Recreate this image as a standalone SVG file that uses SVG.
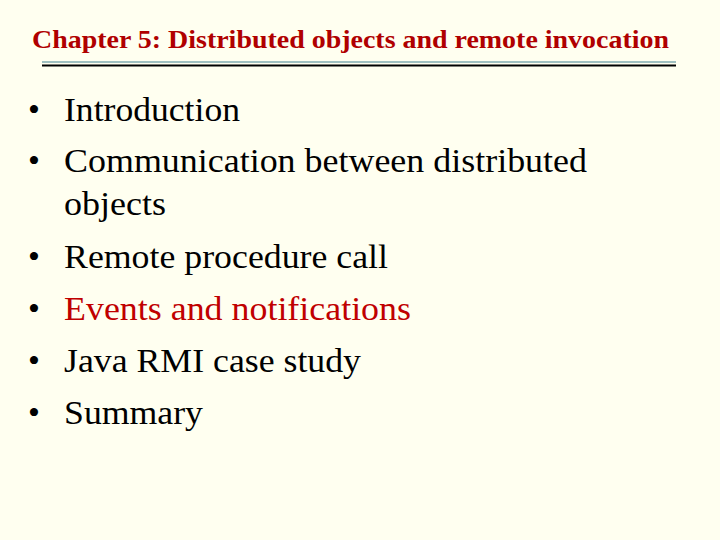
<svg xmlns="http://www.w3.org/2000/svg" width="720" height="540" viewBox="0 0 720 540">
<style>
.t{font-family:"Liberation Serif",serif;font-size:34px;fill:#000}
.r{fill:#c00000}
</style>
<rect width="720" height="540" fill="#fffff0"/>
<text x="32" y="48" textLength="637" lengthAdjust="spacingAndGlyphs" font-family="Liberation Serif,serif" font-size="25" font-weight="bold" fill="#b00000">Chapter 5: Distributed objects and remote invocation</text>
<line x1="42" y1="62" x2="676" y2="62" stroke="#a0c0c0" stroke-width="2"/>
<line x1="42" y1="65.5" x2="676" y2="65.5" stroke="#000" stroke-width="2"/>
<g>
<text x="28" y="121" class="t">•</text><text x="64" y="121" class="t" textLength="176" lengthAdjust="spacingAndGlyphs">Introduction</text>
<text x="28" y="172" class="t">•</text><text x="64" y="172" class="t" textLength="523" lengthAdjust="spacingAndGlyphs">Communication between distributed</text>
<text x="64" y="215" class="t" textLength="102" lengthAdjust="spacingAndGlyphs">objects</text>
<text x="28" y="268" class="t">•</text><text x="64" y="268" class="t" textLength="324" lengthAdjust="spacingAndGlyphs">Remote procedure call</text>
<text x="28" y="320" class="t">•</text><text x="64" y="320" class="t r" textLength="347" lengthAdjust="spacingAndGlyphs">Events and notifications</text>
<text x="28" y="372" class="t">•</text><text x="64" y="372" class="t" textLength="297" lengthAdjust="spacingAndGlyphs">Java RMI case study</text>
<text x="28" y="424" class="t">•</text><text x="64" y="424" class="t" textLength="139" lengthAdjust="spacingAndGlyphs">Summary</text>
</g>
</svg>
